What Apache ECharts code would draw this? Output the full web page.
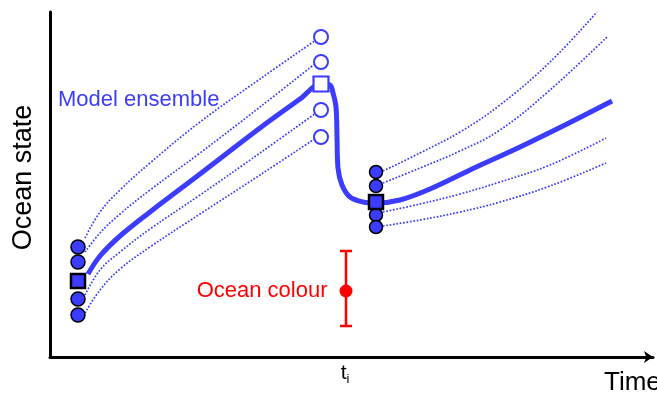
<!DOCTYPE html>
<html>
<head>
<meta charset="utf-8">
<script src="https://cdn.jsdelivr.net/npm/echarts@6/dist/echarts.min.js"></script>
<style>
  html, body { margin: 0; padding: 0; background: #fff; }
  #chart { width: 657px; height: 393px; }
</style>
</head>
<body>
<div id="chart"></div>
<script>
// arbitrary units: time along x, ocean state along y
const ti = 29.5;

// ensemble mean trajectory (forecast, then analysis jump, then next forecast)
const meanLine = [
  [3.8, 8.3], [5.0, 10.1], [7.0, 12.1], [10.0, 14.5], [15.0, 18.3], [21.0, 22.9],
  [25.0, 25.8], [27.1, 27.3],
  [28.0, 27.2], [28.3, 26.4], [28.6, 25.0], [28.7, 22.0], [28.8, 18.9], [29.2, 17.2],
  [30.0, 16.0], [31.3, 15.5], [32.6, 15.4],
  [35.0, 15.7], [38.0, 16.8], [42.0, 18.7], [47.0, 21.0], [51.7, 23.3], [56.2, 25.6]
];

// individual members before t_i
const memberA = [[3.5, 11.9], [5.0, 14.5], [7.0, 16.7], [10.0, 19.4], [15.0, 23.5], [21.0, 27.8], [26.6, 31.7]];
const memberB = [[3.5, 10.5], [5.0, 12.4], [7.0, 14.3], [10.0, 16.7], [15.0, 20.4], [21.0, 25.0], [26.6, 29.4]];
const memberC = [[3.5, 6.2], [5.0, 8.7], [7.0, 10.5], [10.0, 12.8], [15.0, 16.2], [21.0, 20.4], [26.6, 24.4]];
const memberD = [[3.5, 4.4], [5.0, 6.7], [7.0, 8.8], [10.0, 11.0], [15.0, 14.3], [21.0, 18.2], [26.6, 21.9]];

// members after t_i
const memberE = [[33.3, 18.6], [37.0, 20.4], [41.0, 22.5], [45.0, 25.2], [50.0, 29.5], [54.7, 34.5]];
const memberF = [[33.3, 17.4], [37.0, 18.9], [41.0, 20.6], [45.0, 22.7], [50.0, 26.7], [55.7, 32.0]];
const memberG = [[33.3, 14.5], [37.0, 15.3], [41.0, 16.3], [45.0, 17.5], [50.0, 19.2], [55.6, 21.9]];
const memberH = [[33.3, 13.1], [37.0, 13.7], [41.0, 14.5], [45.0, 15.5], [50.0, 17.1], [55.6, 19.4]];

// markers
const startMembers = [[2.8, 11.0], [2.8, 9.5], [2.8, 5.8], [2.8, 4.2]];
const startMean = [[2.8, 7.6]];
const forecastMembers = [[27.1, 32.0], [27.1, 29.5], [27.1, 24.7], [27.1, 22.0]];
const forecastMean = [[27.1, 27.3]];
const analysisMembers = [[32.6, 18.5], [32.6, 17.1], [32.6, 14.2], [32.6, 13.0]];
const analysisMean = [[32.6, 15.5]];

// observation: x, low, value, high
const oceanColour = [[29.6, 3.1, 6.6, 10.6]];

const blue = '#3c3cff';
const red = '#ff0000';
const font = "'Liberation Sans', Arial, Helvetica, sans-serif";

const chart = echarts.init(document.getElementById('chart'), null, { renderer: 'canvas' });

let series = [];
[memberA, memberB, memberC, memberD, memberE, memberF, memberG, memberH].forEach(d => {
  series.push({
    type: 'line',
    data: d,
    smooth: 0.4,
    symbol: 'none',
    silent: true,
    clip: false,
    z: 2,
    lineStyle: { color: blue, width: 1.7, type: 'dotted' }
  });
});
series.push({
  type: 'line',
  data: meanLine,
  smooth: 0.35,
  symbol: 'none',
  silent: true,
  z: 3,
  lineStyle: { color: blue, width: 5 }
});

// error bar of the observation
series.push({
  type: 'custom',
  data: oceanColour,
  encode: { x: 0, y: [1, 3] },
  z: 4,
  silent: true,
  renderItem(params, api) {
    const x = api.value(0);
    const lo = api.coord([x, api.value(1)]);
    const hi = api.coord([x, api.value(3)]);
    const w = 6;
    const st = { stroke: red, lineWidth: 2.5 };
    return {
      type: 'group',
      children: [
        { type: 'line', shape: { x1: lo[0], y1: lo[1], x2: hi[0], y2: hi[1] }, style: st },
        { type: 'line', shape: { x1: lo[0] - w, y1: lo[1], x2: lo[0] + w, y2: lo[1] }, style: st },
        { type: 'line', shape: { x1: hi[0] - w, y1: hi[1], x2: hi[0] + w, y2: hi[1] }, style: st }
      ]
    };
  }
});
series.push({
  type: 'scatter',
  name: 'Ocean colour',
  data: oceanColour.map(d => [d[0], d[2]]),
  symbol: 'circle',
  symbolSize: 13,
  z: 5,
  silent: true,
  itemStyle: { color: red, opacity: 1 },
  label: {
    show: true, position: 'left', distance: 12, formatter: '{a}',
    color: red, fontSize: 22, fontFamily: font
  }
});

const filled = { color: blue, borderColor: '#000', borderWidth: 1.5, opacity: 1 };
const hollow = { color: '#fff', borderColor: blue, borderWidth: 2, opacity: 1 };
[
  [startMembers, 'circle', 14, filled],
  [startMean, 'rect', 14, Object.assign({}, filled, { borderWidth: 2.5 })],
  [forecastMembers, 'circle', 14, hollow],
  [forecastMean, 'rect', 15, Object.assign({}, hollow, { borderWidth: 2.2 })],
  [analysisMembers, 'circle', 13, filled],
  [analysisMean, 'rect', 14, Object.assign({}, filled, { borderWidth: 2.5 })]
].forEach(m => {
  series.push({
    type: 'scatter', data: m[0], symbol: m[1], symbolSize: m[2],
    itemStyle: m[3], z: 6, silent: true
  });
});

const option = {
  animation: false,
  backgroundColor: '#fff',
  grid: { left: 50, top: 12, width: 603, height: 345 },
  xAxis: {
    type: 'value', min: 0, max: 60.3,
    axisLine: { onZero: false, symbol: ['none', 'arrow'], symbolSize: [9, 9], lineStyle: { color: '#000', width: 3 } },
    axisTick: { show: false },
    splitLine: { show: false },
    axisLabel: {
      customValues: [ti],
      margin: 4,
      formatter: () => '{t|t}{i|i}',
      rich: {
        t: { fontSize: 21, fontFamily: font, color: '#000' },
        i: { fontSize: 13, fontFamily: font, color: '#000', verticalAlign: 'bottom', padding: [12, 0, 0, 0] }
      }
    }
  },
  yAxis: {
    type: 'value', min: 0, max: 34.5,
    name: 'Ocean state', nameLocation: 'middle', nameGap: 13,
    nameTextStyle: { fontSize: 27, fontFamily: font, color: '#000', padding: [0, 0, 0, 14] },
    axisLine: { onZero: false, lineStyle: { color: '#000', width: 3 } },
    axisTick: { show: false },
    splitLine: { show: false },
    axisLabel: { show: false }
  },
  graphic: [
    { type: 'text', x: 58, y: 100, style: { text: 'Model ensemble', fill: blue, fontSize: 22, fontFamily: font, verticalAlign: 'middle' } },
    { type: 'text', x: 604, y: 383, style: { text: 'Time', fill: '#000', fontSize: 26, fontFamily: font, verticalAlign: 'middle' } }
  ],
  series: series
};
chart.setOption(option);
</script>
</body>
</html>
